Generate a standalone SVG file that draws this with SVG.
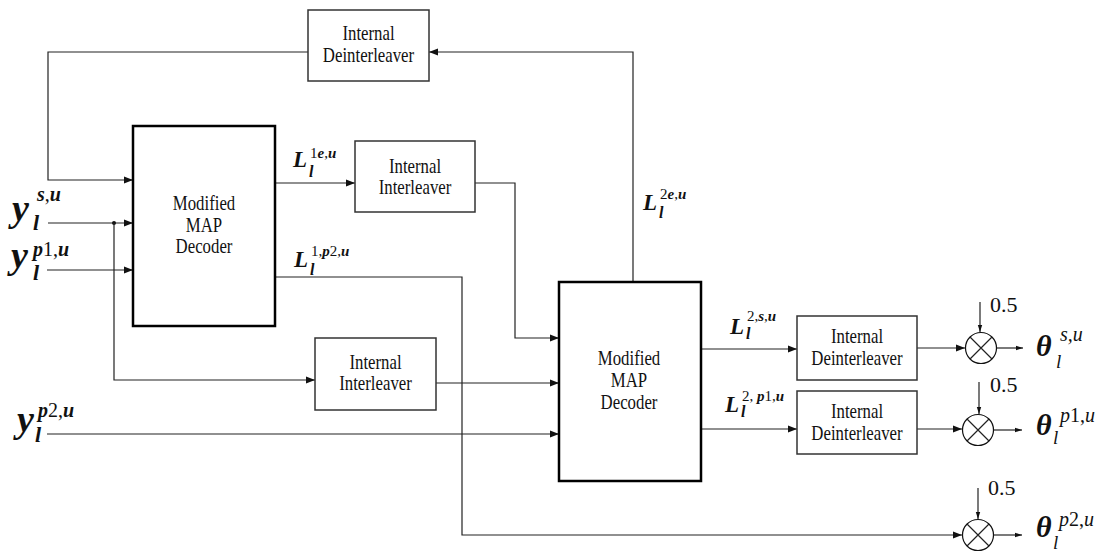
<svg xmlns="http://www.w3.org/2000/svg" width="1108" height="554" viewBox="0 0 1108 554" font-family="'Liberation Serif', 'DejaVu Serif', serif">
<defs>
<marker id="ah" markerUnits="userSpaceOnUse" markerWidth="10" markerHeight="8" refX="9" refY="4" orient="auto">
<path d="M0,0.5 L9,4 L0,7.5 Z" fill="#111"/>
</marker>
<marker id="ahs" markerUnits="userSpaceOnUse" markerWidth="8" markerHeight="6" refX="7" refY="3" orient="auto">
<path d="M0,0.8 L7,3 L0,5.2 Z" fill="#111"/>
</marker>
<style>
.box{fill:#fff;stroke:#333;stroke-width:1.5}
.dec{fill:#fff;stroke:#000;stroke-width:2.5}
.lbl{font-family:'Liberation Serif','DejaVu Serif',serif;font-size:20px;fill:#111;text-anchor:middle}
.w{fill:none;stroke:#222;stroke-width:1.2}
.a{marker-end:url(#ah)}
.m{font-family:'Liberation Serif','DejaVu Serif',serif;fill:#111}
.bi{font-weight:bold;font-style:italic}
.it{font-style:italic}
.rg{font-weight:normal;font-style:normal}
.mul{fill:#fff;stroke:#111;stroke-width:1.2}
</style>
</defs>

<g id="connectors">
<path class="w a" d="M308,52 H48 V180 H133"/>
<path class="w a" d="M633,282 V52 H429"/>
<path class="w a" d="M48,223 H133"/>
<circle cx="114" cy="223" r="2" fill="#111"/>
<path class="w a" d="M114,223 V380 H315"/>
<path class="w a" d="M47,270 H133"/>
<path class="w a" d="M275,183 H355"/>
<path class="w a" d="M475,183 H515 V338 H559"/>
<path class="w a" d="M275,277 H462 V535 H962"/>
<path class="w a" d="M436,383 H559"/>
<path class="w a" d="M47,434 H559"/>
<path class="w a" d="M701,349 H797"/>
<path class="w a" d="M701,429 H797"/>
<path class="w a" d="M917,348 H965"/>
<path class="w a" d="M917,429 H962"/>
<path class="w" d="M997,348 H1023" marker-end="url(#ahs)"/>
<path class="w" d="M994,430 H1022" marker-end="url(#ahs)"/>
<path class="w" d="M994,535 H1022" marker-end="url(#ahs)"/>
<path class="w" d="M980,302 V332" marker-end="url(#ahs)"/>
<path class="w" d="M979,382 V414" marker-end="url(#ahs)"/>
<path class="w" d="M978,488 V519" marker-end="url(#ahs)"/>
</g>

<g id="deint-top">
<rect class="box" x="308" y="10" width="121" height="71"/>
<g transform="translate(368.5 0) scale(0.84 1)"><text class="lbl" x="0" y="40">Internal</text><text class="lbl" x="0" y="62">Deinterleaver</text></g>
</g>

<g id="decoder1">
<rect class="dec" x="133" y="126" width="142" height="200"/>
<g transform="translate(204 0) scale(0.84 1)"><text class="lbl" x="0" y="210">Modified</text><text class="lbl" x="0" y="232">MAP</text><text class="lbl" x="0" y="253">Decoder</text></g>
</g>

<g id="interleaver1">
<rect class="box" x="355" y="141" width="120" height="71"/>
<g transform="translate(415 0) scale(0.84 1)"><text class="lbl" x="0" y="173">Internal</text><text class="lbl" x="0" y="194">Interleaver</text></g>
</g>

<g id="interleaver2">
<rect class="box" x="315" y="338" width="121" height="72"/>
<g transform="translate(375.5 0) scale(0.84 1)"><text class="lbl" x="0" y="369">Internal</text><text class="lbl" x="0" y="390">Interleaver</text></g>
</g>

<g id="decoder2">
<rect class="dec" x="559" y="282" width="142" height="199"/>
<g transform="translate(629 0) scale(0.84 1)"><text class="lbl" x="0" y="365">Modified</text><text class="lbl" x="0" y="387">MAP</text><text class="lbl" x="0" y="409">Decoder</text></g>
</g>

<g id="deint-a">
<rect class="box" x="797" y="316" width="120" height="64"/>
<g transform="translate(857 0) scale(0.84 1)"><text class="lbl" x="0" y="343">Internal</text><text class="lbl" x="0" y="365">Deinterleaver</text></g>
</g>

<g id="deint-b">
<rect class="box" x="797" y="391" width="120" height="63"/>
<g transform="translate(857 0) scale(0.84 1)"><text class="lbl" x="0" y="418">Internal</text><text class="lbl" x="0" y="440">Deinterleaver</text></g>
</g>

<g id="mult1">
<circle class="mul" cx="981" cy="348" r="15.5"/>
<path class="w" d="M970,337 L992,359 M992,337 L970,359"/>
<text class="m" x="990" y="312" font-size="22">0.5</text>
</g>
<g id="mult2">
<circle class="mul" cx="978" cy="430" r="15.5"/>
<path class="w" d="M967,419 L989,441 M989,419 L967,441"/>
<text class="m" x="990" y="392" font-size="22">0.5</text>
</g>
<g id="mult3">
<circle class="mul" cx="978" cy="535" r="15.5"/>
<path class="w" d="M967,524 L989,546 M989,524 L967,546"/>
<text class="m" x="988" y="495" font-size="22">0.5</text>
</g>

<g id="labels">
<text class="m"><tspan class="bi" x="12" y="221" font-size="38">y</tspan><tspan class="bi" x="37" y="201" font-size="20">s</tspan><tspan class="rg" font-size="20">,</tspan><tspan class="bi" font-size="20">u</tspan><tspan class="bi" x="33" y="230" font-size="22">l</tspan></text>

<text class="m"><tspan class="bi" x="11" y="268" font-size="38">y</tspan><tspan class="bi" x="33" y="256" font-size="20">p</tspan><tspan class="rg" font-size="20">1,</tspan><tspan class="bi" font-size="20">u</tspan><tspan class="bi" x="33" y="280" font-size="22">l</tspan></text>

<text class="m"><tspan class="bi" x="17" y="432" font-size="38">y</tspan><tspan class="bi" x="38" y="417" font-size="20">p</tspan><tspan class="rg" font-size="20">2,</tspan><tspan class="bi" font-size="20">u</tspan><tspan class="bi" x="35" y="442" font-size="22">l</tspan></text>

<text class="m"><tspan class="bi" x="293" y="167" font-size="23">L</tspan><tspan class="rg" x="310" y="158" font-size="15">1</tspan><tspan class="bi" font-size="15">e</tspan><tspan class="rg" font-size="15">,</tspan><tspan class="bi" font-size="15">u</tspan><tspan class="bi" x="309" y="177" font-size="16">l</tspan></text>

<text class="m"><tspan class="bi" x="294" y="267" font-size="23">L</tspan><tspan class="rg" x="311" y="256" font-size="15">1,</tspan><tspan class="bi" font-size="15">p</tspan><tspan class="rg" font-size="15">2,</tspan><tspan class="bi" font-size="15">u</tspan><tspan class="bi" x="310" y="275" font-size="16">l</tspan></text>

<text class="m"><tspan class="bi" x="643" y="210" font-size="23">L</tspan><tspan class="rg" x="660" y="199" font-size="15">2</tspan><tspan class="bi" font-size="15">e</tspan><tspan class="rg" font-size="15">,</tspan><tspan class="bi" font-size="15">u</tspan><tspan class="bi" x="659" y="218" font-size="16">l</tspan></text>

<text class="m"><tspan class="bi" x="730" y="334" font-size="23">L</tspan><tspan class="rg" x="747" y="321" font-size="15">2,</tspan><tspan class="bi" font-size="15">s</tspan><tspan class="rg" font-size="15">,</tspan><tspan class="bi" font-size="15">u</tspan><tspan class="bi" x="746" y="339" font-size="16">l</tspan></text>

<text class="m"><tspan class="bi" x="725" y="412" font-size="23">L</tspan><tspan class="rg" x="742" y="401" font-size="15">2, </tspan><tspan class="bi" font-size="15">p</tspan><tspan class="rg" font-size="15">1,</tspan><tspan class="bi" font-size="15">u</tspan><tspan class="bi" x="741" y="417" font-size="16">l</tspan></text>

<text class="m"><tspan class="bi" x="1036" y="356" font-size="30">θ</tspan><tspan class="it" x="1060" y="341" font-size="20">s,u</tspan><tspan class="it" x="1056" y="368" font-size="19">l</tspan></text>

<text class="m"><tspan class="bi" x="1036" y="435" font-size="30">θ</tspan><tspan class="it" x="1060" y="422" font-size="20">p</tspan><tspan font-size="20">1,</tspan><tspan class="it" font-size="20">u</tspan><tspan class="it" x="1053" y="444" font-size="19">l</tspan></text>

<text class="m"><tspan class="bi" x="1036" y="537" font-size="30">θ</tspan><tspan class="it" x="1059" y="526" font-size="20">p</tspan><tspan font-size="20">2,</tspan><tspan class="it" font-size="20">u</tspan><tspan class="it" x="1053" y="549" font-size="19">l</tspan></text>
</g>
</svg>
